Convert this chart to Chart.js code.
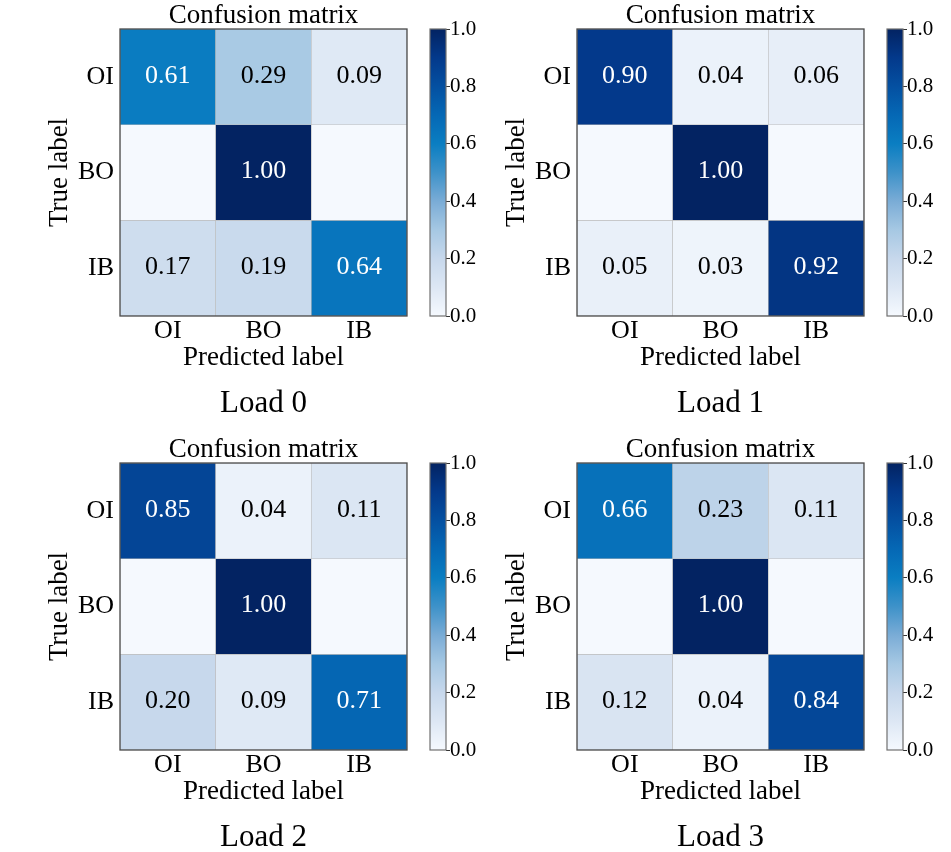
<!DOCTYPE html>
<html><head><meta charset="utf-8">
<script src="https://cdn.jsdelivr.net/npm/chart.js@4.4.1/dist/chart.umd.min.js"></script>
<style>
html,body{margin:0;padding:0;background:#fff;overflow:hidden;width:951px;height:852px;}
.panel{position:absolute;}
canvas{display:block;}
</style></head><body>
<div id="root"></div>
<script>
// ---------- data ----------
const rowLabels = ['OI', 'BO', 'IB'];
const colLabels = ['OI', 'BO', 'IB'];
const load0 = [[0.61, 0.29, 0.09], [0.00, 1.00, 0.00], [0.17, 0.19, 0.64]];
const load1 = [[0.90, 0.04, 0.06], [0.00, 1.00, 0.00], [0.05, 0.03, 0.92]];
const load2 = [[0.85, 0.04, 0.11], [0.00, 1.00, 0.00], [0.20, 0.09, 0.71]];
const load3 = [[0.66, 0.23, 0.11], [0.00, 1.00, 0.00], [0.12, 0.04, 0.84]];
const panelNames = ['Load 0', 'Load 1', 'Load 2', 'Load 3'];
const matrixTitle = 'Confusion matrix';
const xAxisTitle = 'Predicted label';
const yAxisTitle = 'True label';
const colorbarMin = 0, colorbarMax = 1, colorbarStep = 0.2;

const matrices = [load0, load1, load2, load3];

// ---------- style ----------
const FONT = "'Liberation Serif','Times New Roman',serif";
const CMAP = [
  [0.0, [245, 249, 254]],
  [0.1, [221, 231, 244]],
  [0.2, [199, 216, 236]],
  [0.3, [166, 200, 227]],
  [0.4, [122, 172, 214]],
  [0.5, [62, 146, 201]],
  [0.6, [10, 126, 194]],
  [0.7, [5, 104, 181]],
  [0.8, [4, 80, 161]],
  [0.9, [3, 57, 139]],
  [1.0, [3, 35, 98]]
];
function cmap(v) {
  v = Math.max(0, Math.min(1, v));
  for (let i = 1; i < CMAP.length; i++) {
    if (v <= CMAP[i][0]) {
      const [t0, c0] = CMAP[i - 1], [t1, c1] = CMAP[i];
      const f = (v - t0) / (t1 - t0);
      const c = c0.map((a, k) => Math.round(a + (c1[k] - a) * f));
      return `rgb(${c[0]},${c[1]},${c[2]})`;
    }
  }
  const c = CMAP[CMAP.length - 1][1];
  return `rgb(${c[0]},${c[1]},${c[2]})`;
}
const panelPos = [{x: 0, y: 0}, {x: 457, y: 0}, {x: 0, y: 434}, {x: 457, y: 434}];

const framePlugin = (color, lw) => ({
  id: 'frame',
  afterDraw(chart) {
    const {ctx, chartArea: ca} = chart;
    ctx.save();
    ctx.strokeStyle = color;
    ctx.lineWidth = lw;
    ctx.strokeRect(ca.left, ca.top, ca.right - ca.left, ca.bottom - ca.top);
    ctx.restore();
  }
});

const cellTextPlugin = {
  id: 'cellText',
  afterDatasetsDraw(chart) {
    const {ctx} = chart;
    const m = chart.config.options.plugins.cellText.matrix;
    ctx.save();
    ctx.font = `26px ${FONT}`;
    ctx.textAlign = 'center';
    ctx.textBaseline = 'middle';
    chart.data.datasets.forEach((ds, i) => {
      const meta = chart.getDatasetMeta(i);
      meta.data.forEach((bar, j) => {
        const v = m[i][j];
        if (v === 0) return;
        ctx.fillStyle = v > 0.5 ? '#ffffff' : '#000000';
        ctx.fillText(v.toFixed(2), bar.x, (bar.y + bar.base) / 2 - 1);
      });
    });
    ctx.restore();
  }
};

Chart.defaults.font.family = FONT;
Chart.defaults.color = '#000';

const root = document.getElementById('root');
function makeCanvas(left, top, w, h) {
  const d = document.createElement('div');
  d.className = 'panel';
  d.style.left = left + 'px';
  d.style.top = top + 'px';
  const c = document.createElement('canvas');
  c.width = w; c.height = h;
  c.style.width = w + 'px'; c.style.height = h + 'px';
  d.appendChild(c);
  root.appendChild(d);
  return c;
}

matrices.forEach((m, p) => {
  const pos = panelPos[p];
  const cv = makeCanvas(pos.x, pos.y, 410, 420);
  new Chart(cv, {
    type: 'bar',
    data: {
      labels: colLabels,
      datasets: rowLabels.map((r, i) => ({
        label: r,
        data: colLabels.map(() => [i, i + 1]),
        backgroundColor: m[i].map(cmap),
        borderColor: '#bdbdbd',
        borderWidth: 0.6,
        borderSkipped: false,
        barPercentage: 1,
        categoryPercentage: 1,
        grouped: false
      }))
    },
    options: {
      responsive: false,
      animation: false,
      layout: {padding: {left: 0, right: 3, top: 0, bottom: 0}},
      plugins: {
        legend: {display: false},
        tooltip: {enabled: false},
        cellText: {matrix: m},
        title: {
          display: true, text: matrixTitle, fullSize: false, color: '#000',
          font: {family: FONT, size: 27, weight: 'normal', lineHeight: 1},
          padding: {top: 2, bottom: 0}
        },
        subtitle: {
          display: true, text: panelNames[p], position: 'bottom', fullSize: false, color: '#000',
          font: {family: FONT, size: 31, weight: 'normal', lineHeight: 1},
          padding: {top: 17, bottom: 0.5}
        }
      },
      scales: {
        x: {
          type: 'category', offset: true,
          grid: {display: false, drawTicks: false},
          border: {display: false},
          ticks: {font: {family: FONT, size: 26, lineHeight: 1}, color: '#000', padding: 2, maxRotation: 0, autoSkip: false},
          title: {display: true, text: xAxisTitle, color: '#000', font: {family: FONT, size: 27, lineHeight: 1}, padding: 0},
          afterFit(s) { s.height = 55.5; }
        },
        y: {
          type: 'linear', min: 0, max: rowLabels.length, reverse: true,
          grid: {display: false, drawTicks: false},
          border: {display: false},
          afterBuildTicks(s) { s.ticks = rowLabels.map((_, i) => ({value: i + 0.5})); },
          ticks: {autoSkip: false, callback: (v, i) => rowLabels[i], font: {family: FONT, size: 26, lineHeight: 1}, color: '#000', padding: 6},
          title: {display: true, text: yAxisTitle, color: '#000', font: {family: FONT, size: 27, lineHeight: 1}, padding: {top: 46.5, bottom: 0}},
          afterFit(s) { s.width = 120; }
        }
      }
    },
    plugins: [cellTextPlugin, framePlugin('#4a4a4a', 1.3)]
  });

  const cb = makeCanvas(pos.x + 425, pos.y, 61, 420);
  new Chart(cb, {
    type: 'bar',
    data: {
      labels: [''],
      datasets: [{
        data: [[colorbarMin, colorbarMax]],
        backgroundColor: (ctx) => {
          const ca = ctx.chart.chartArea;
          if (!ca) return cmap(0.5);
          const g = ctx.chart.ctx.createLinearGradient(0, ca.bottom, 0, ca.top);
          CMAP.forEach(([t, c]) => g.addColorStop(t, `rgb(${c[0]},${c[1]},${c[2]})`));
          return g;
        },
        borderWidth: 0,
        barPercentage: 1,
        categoryPercentage: 1
      }]
    },
    options: {
      responsive: false,
      animation: false,
      layout: {padding: {left: 5, right: 0, top: 29, bottom: 104}},
      plugins: {legend: {display: false}, tooltip: {enabled: false}},
      scales: {
        x: {display: false},
        y: {
          position: 'right', min: colorbarMin, max: colorbarMax,
          ticks: {stepSize: colorbarStep, callback: v => Number(v).toFixed(1), font: {family: FONT, size: 21, lineHeight: 1}, color: '#000', padding: 0},
          grid: {drawOnChartArea: false, drawTicks: true, tickLength: 4, color: '#333', lineWidth: 1},
          border: {display: false},
          afterFit(s) { s.width = 40; }
        }
      }
    },
    plugins: [framePlugin('#707070', 1.2)]
  });
});
</script>
</body></html>
